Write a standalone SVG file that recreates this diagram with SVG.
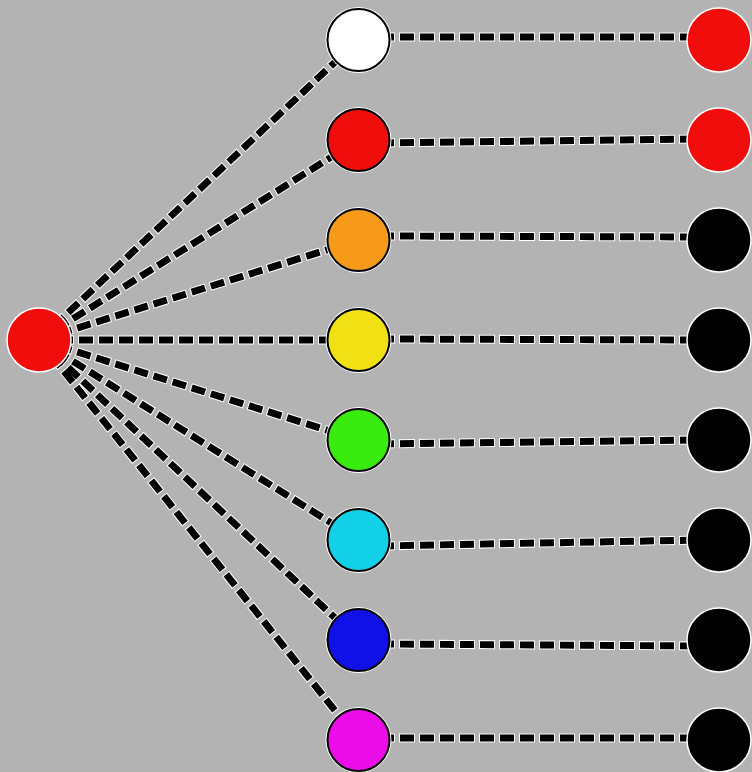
<svg xmlns="http://www.w3.org/2000/svg" width="752" height="772" viewBox="0 0 752 772">
  <defs>
    <style>
      .halo { fill: none; stroke: #ffffff; stroke-width: 9; stroke-dasharray: 16 4; stroke-dashoffset: 1; stroke-linejoin: round; }
      .dash { fill: none; stroke: #000000; stroke-width: 7; stroke-dasharray: 14 6; }
      .ring { fill: #ffffff; }
      .mid { stroke: #000000; stroke-width: 2; }
      .end { stroke: #ffffff; stroke-width: 1.5; }
    </style>
    <g id="edgeFan">
      <line x1="39" y1="340" x2="358.5" y2="40"/>
      <line x1="39" y1="340" x2="358.5" y2="140"/>
      <line x1="39" y1="340" x2="358.5" y2="240"/>
      <line x1="39" y1="340" x2="358.5" y2="340"/>
      <line x1="39" y1="340" x2="358.5" y2="440"/>
      <line x1="39" y1="340" x2="358.5" y2="540"/>
      <line x1="39" y1="340" x2="358.5" y2="640"/>
      <line x1="39" y1="340" x2="358.5" y2="740"/>
    </g>
    <g id="edgeRows">
      <line x1="380" y1="37" x2="700" y2="37"/>
      <line x1="380" y1="143" x2="700" y2="139"/>
      <line x1="380" y1="236" x2="700" y2="237"/>
      <line x1="380" y1="339" x2="700" y2="340"/>
      <line x1="380" y1="444" x2="700" y2="440"/>
      <line x1="380" y1="546" x2="700" y2="540"/>
      <line x1="380" y1="644" x2="700" y2="646"/>
      <line x1="380" y1="738" x2="700" y2="738"/>
    </g>
  </defs>

  <rect width="752" height="772" fill="#b3b3b3"/>

  <g id="connectors">
    <use href="#edgeFan" class="halo"/>
    <use href="#edgeFan" class="dash"/>
    <use href="#edgeRows" class="halo"/>
    <use href="#edgeRows" class="dash"/>
  </g>

  <g id="root">
    <circle cx="39" cy="340" r="32" fill="#f20d0d" class="end"/>
  </g>

  <g id="m1"><circle cx="358.5" cy="40" r="33" class="ring"/><circle cx="358.5" cy="40" r="31" fill="#ffffff" class="mid"/></g>
  <g id="m2"><circle cx="358.5" cy="140" r="33" class="ring"/><circle cx="358.5" cy="140" r="31" fill="#f20d0d" class="mid"/></g>
  <g id="m3"><circle cx="358.5" cy="240" r="33" class="ring"/><circle cx="358.5" cy="240" r="31" fill="#f79a1a" class="mid"/></g>
  <g id="m4"><circle cx="358.5" cy="340" r="33" class="ring"/><circle cx="358.5" cy="340" r="31" fill="#f0e014" class="mid"/></g>
  <g id="m5"><circle cx="358.5" cy="440" r="33" class="ring"/><circle cx="358.5" cy="440" r="31" fill="#3aeb10" class="mid"/></g>
  <g id="m6"><circle cx="358.5" cy="540" r="33" class="ring"/><circle cx="358.5" cy="540" r="31" fill="#12d0e8" class="mid"/></g>
  <g id="m7"><circle cx="358.5" cy="640" r="33" class="ring"/><circle cx="358.5" cy="640" r="31" fill="#1010e8" class="mid"/></g>
  <g id="m8"><circle cx="358.5" cy="740" r="33" class="ring"/><circle cx="358.5" cy="740" r="31" fill="#ec0ce8" class="mid"/></g>

  <g id="r1"><circle cx="719" cy="40" r="32" fill="#f20d0d" class="end"/></g>
  <g id="r2"><circle cx="719" cy="140" r="32" fill="#f20d0d" class="end"/></g>
  <g id="r3"><circle cx="719" cy="240" r="32" fill="#000000" class="end"/></g>
  <g id="r4"><circle cx="719" cy="340" r="32" fill="#000000" class="end"/></g>
  <g id="r5"><circle cx="719" cy="440" r="32" fill="#000000" class="end"/></g>
  <g id="r6"><circle cx="719" cy="540" r="32" fill="#000000" class="end"/></g>
  <g id="r7"><circle cx="719" cy="640" r="32" fill="#000000" class="end"/></g>
  <g id="r8"><circle cx="719" cy="740" r="32" fill="#000000" class="end"/></g>
</svg>
